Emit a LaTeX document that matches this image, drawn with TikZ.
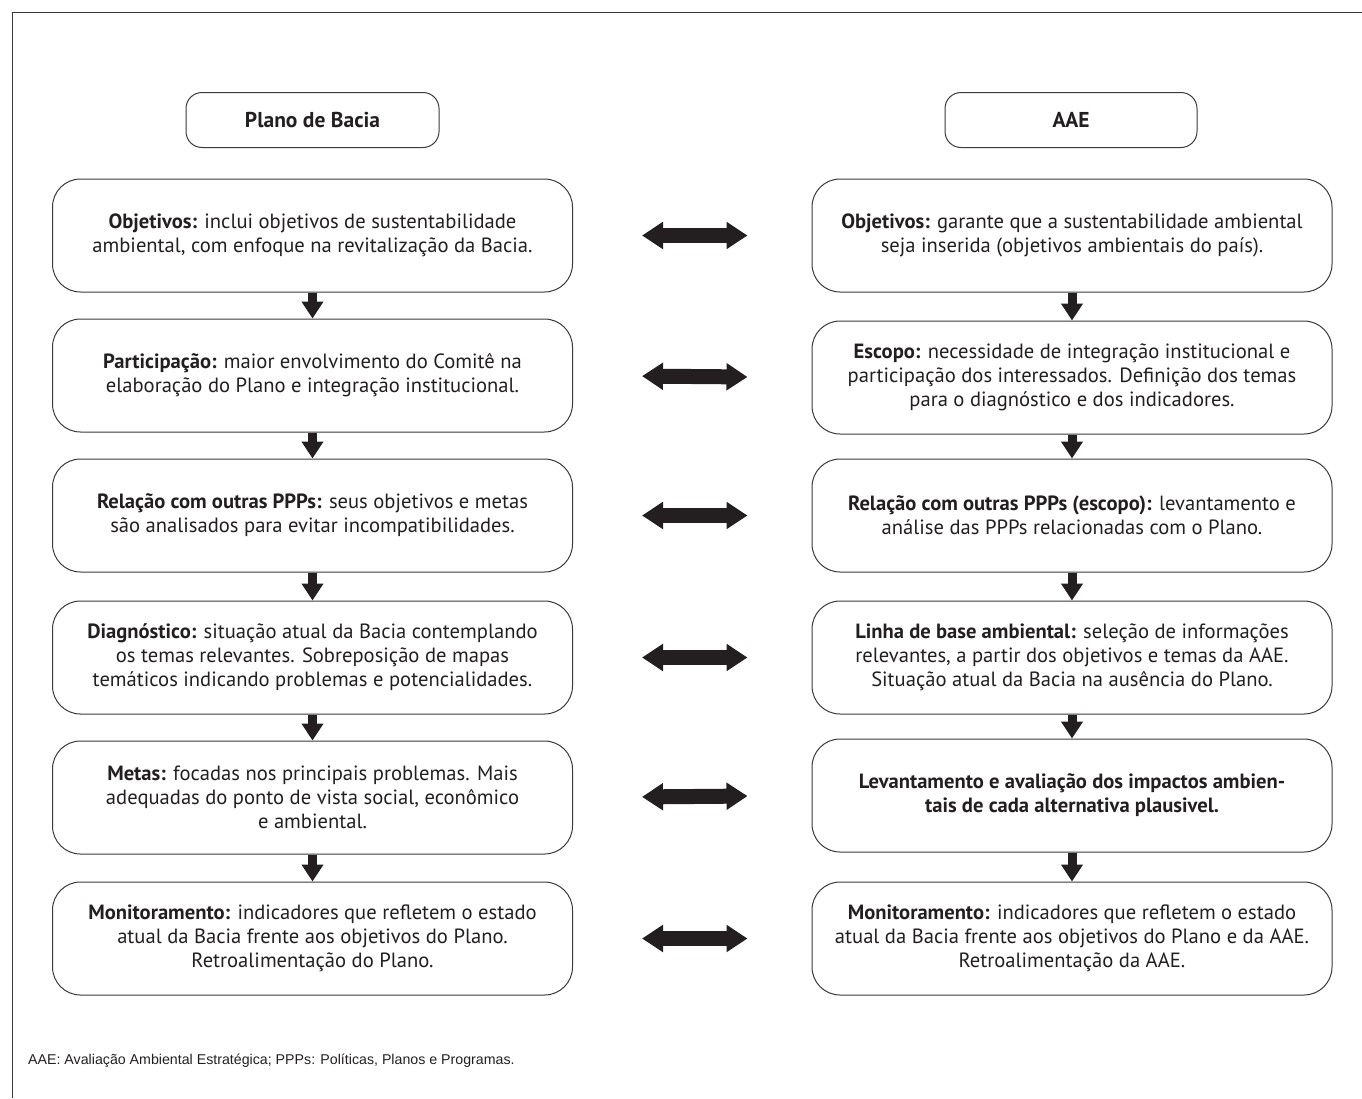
\documentclass[tikz,border=0pt]{standalone}
\usepackage{fontspec}
\setmainfont{PT Sans}
\newfontfamily\notefont{Liberation Sans}
\usetikzlibrary{arrows.meta}
\definecolor{ink}{HTML}{231F20}
\definecolor{edge}{HTML}{3A3A3A}
\tikzset{
  headbox/.style={draw=edge, line width=1pt, rounded corners=16pt, minimum width=253pt, minimum height=55pt, font=\fontsize{21.5}{24}\selectfont\bfseries, text=ink, inner sep=0pt},
  stepbox/.style={draw=edge, line width=1pt, rounded corners=28pt, minimum width=520pt, minimum height=113pt, font=\fontsize{20.6}{24}\selectfont, text=ink, align=center, inner sep=0pt},
  downarrow/.style={draw=ink, line width=9pt, -{Triangle[width=21pt,length=17pt]}},
  bothway/.style={draw=ink, line width=15pt, {Triangle[width=26pt,length=21pt]}-{Triangle[width=26pt,length=21pt]}, shorten <=69pt, shorten >=64pt},
}
\begin{document}
\begin{tikzpicture}[x=1pt,y=-1pt]
\useasboundingbox (0,0) rectangle (1362,1098);
\draw[edge, line width=1pt] (12,1098) -- (12,12) -- (1362,12);

\node[headbox] (hl) at (312.5,120) {Plano de Bacia};
\node[headbox, minimum width=252pt] (hr) at (1071,120) {AAE};

\node[stepbox] (l1) at (312.5,235.5) {\textbf{Objetivos:} inclui objetivos de sustentabilidade\\ambiental, com enfoque na revitalização da Bacia.};
\node[stepbox] (l2) at (312.5,375.5) {\textbf{Participação:} maior envolvimento do Comitê na\\elaboração do Plano e integração institucional.};
\node[stepbox] (l3) at (312.5,515.5) {\textbf{Relação com outras PPPs:} seus objetivos e metas\\são analisados para evitar incompatibilidades.};
\node[stepbox] (l4) at (312.5,657.5) {\textbf{Diagnóstico:} situação atual da Bacia contemplando\\os temas relevantes. Sobreposição de mapas\\temáticos indicando problemas e potencialidades.};
\node[stepbox] (l5) at (312.5,797.5) {\textbf{Metas:} focadas nos principais problemas. Mais\\adequadas do ponto de vista social, econômico\\e ambiental.};
\node[stepbox] (l6) at (312.5,938.5) {\textbf{Monitoramento:} indicadores que refletem o estado\\atual da Bacia frente aos objetivos do Plano.\\Retroalimentação do Plano.};

\node[stepbox] (r1) at (1072,235.5) {\textbf{Objetivos:} garante que a sustentabilidade ambiental\\seja inserida (objetivos ambientais do país).};
\node[stepbox] (r2) at (1072,377.5) {\textbf{Escopo:} necessidade de integração institucional e\\participação dos interessados. Definição dos temas\\para o diagnóstico e dos indicadores.};
\node[stepbox] (r3) at (1072,515.5) {\textbf{Relação com outras PPPs (escopo):} levantamento e\\análise das PPPs relacionadas com o Plano.};
\node[stepbox] (r4) at (1072,657.5) {\textbf{Linha de base ambiental:} seleção de informações\\relevantes, a partir dos objetivos e temas da AAE.\\Situação atual da Bacia na ausência do Plano.};
\node[stepbox, font=\fontsize{20.6}{24}\selectfont\bfseries] (r5) at (1072,795.5) {Levantamento e avaliação dos impactos ambien-\\tais de cada alternativa plausivel.};
\node[stepbox] (r6) at (1072,938.5) {\textbf{Monitoramento:} indicadores que refletem o estado\\atual da Bacia frente aos objetivos do Plano e da AAE.\\Retroalimentação da AAE.};

\foreach \a/\b in {l1/l2,l2/l3,l3/l4,l4/l5,l5/l6,r1/r2,r2/r3,r3/r4,r4/r5,r5/r6}
  \draw[downarrow] (\a.south) -- (\b.north);
\foreach \i in {1,...,6}
  \draw[bothway] (l\i.east) -- (r\i.west);

\node[anchor=west, font=\notefont\fontsize{14.2}{17}\selectfont, text=ink, inner sep=0pt] (note) at (28,1061) {AAE: Avaliação Ambiental Estratégica; PPPs: Políticas, Planos e Programas.};
\end{tikzpicture}
\end{document}
